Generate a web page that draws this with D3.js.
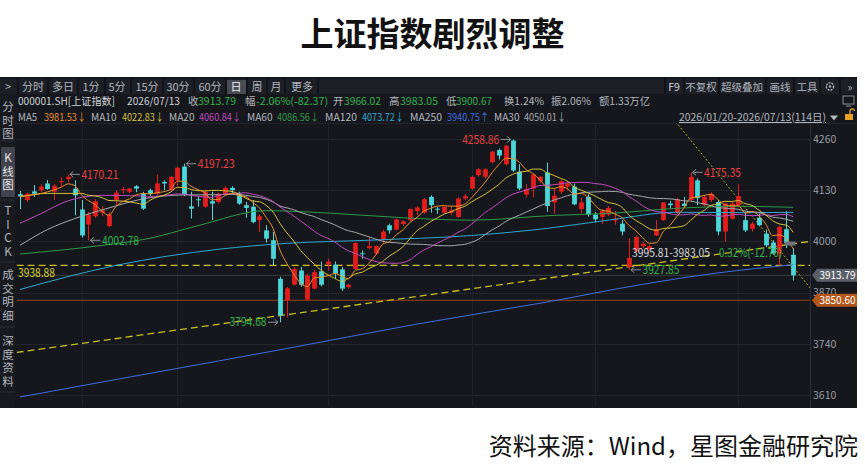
<!DOCTYPE html>
<html>
<head>
<meta charset="utf-8">
<script src="https://cdn.jsdelivr.net/npm/d3@7"></script>
<style>
  body { margin: 0; background: #fff; }
  svg { display: block; }
  text { font-family: "Noto Sans CJK SC", "Noto Sans", sans-serif; }
</style>
</head>
<body>
<div class="chart"></div>
<script>
// 上证指数 daily candles, 2026/01/20 - 2026/07/13 (114 sessions)
const opens = [4120,4105,4127,4130,4147,4126,4150,4158,4134,4081,
  4043,4064,4073,4039,4105,4130,4126,4140,4121,4130,
  4121,4151,4130,4155,4190,4089,4107,4088,4102,4100,
  4121,4136,4121,4092,4088,4054,4028,4003,3905,3850,
  3890,3926,3852,3880,3924,3941,3941,3929,3884,3930,
  3970,3983,3969,4005,4041,4030,4044,4054,4077,4073,
  4113,4083,4073,4073,4062,4109,4134,4168,4164,4201,
  4232,4196,4256,4177,4119,4134,4153,4175,4099,4126,
  4139,4139,4082,4113,4068,4062,4068,4053,4045,3935,
  3975,3988,3980,4015,4054,4096,4073,4096,4105,4155,
  4092,4105,4100,4025,4058,4092,4054,4032,4060,4020,
  3997,3969,4031,3966.02];
const highs = [4128,4124,4143,4145,4156,4146,4163,4170.21,4155,4105,
  4075,4107,4090,4075,4130,4139,4136,4143,4126,4134,
  4170,4155,4166,4190,4197.23,4126,4115,4130,4126,4124,
  4140,4140,4126,4100,4105,4068,4041,4024,3910,3884,
  3935,3935,3918,3928,3949,3956,3949,3935,3893,3998,
  3977,4011,3990,4030,4045,4058,4054,4084,4090,4110,
  4117,4087,4090,4088,4112,4120,4167,4186,4186,4230,
  4236,4245,4258.86,4196,4145,4172,4166,4200,4134,4156,
  4152,4147,4111,4120,4075,4082,4090,4077,4054,4008,
  4015,3999,3992,4054,4100,4103,4110,4113,4175.35,4160,
  4118,4125,4105,4098,4100,4145,4075,4050,4070,4030,
  4003,4040,4077,3983.05];
const lows = [4082,4100,4113,4125,4131,4105,4140,4150,4066,4010,
  4002.78,4060,4064,4036,4092,4122,4122,4125,4080,4115,
  4118,4130,4127,4140,4115,4058,4088,4085,4054,4096,
  4118,4121,4093,4060,4046,4024,3997,3940,3794.68,3807,
  3888,3885,3850,3878,3886,3926,3905,3874,3880,3928,
  3956,3980,3966,3995,4020,4028,4040,4050,4066,4070,
  4073,4070,4070,4066,4060,4105,4132,4165,4160,4198,
  4208,4193,4176,4130,4112,4112,4148,4075,4071,4120,
  4130,4092,4071,4063,4048,4044,4064,4043,4015,3927.85,
  3972,3983,3975,4013,4052,4083,4070,4085,4100,4092,
  4088,4100,4015,4000,4055,4088,4024,4025,4038,3985,
  3966,3939,3983,3900.67];
const closes = [4114,4121,4121,4139,4133,4141,4153,4164,4117,4015,
  4068,4102,4079,4068,4124,4133,4134,4134,4083,4120,
  4147,4147,4164,4187,4119,4083,4105,4126,4096,4121,
  4136,4130,4096,4085,4049,4064,4007,3956,3812,3881,
  3930,3890,3913,3922,3890,3949,3918,3880,3890,3996,
  3968,3988,3988,4025,4028,4056,4051,4082,4086,4107,
  4092,4081,4088,4079,4109,4115,4164,4183,4183,4228,
  4218,4243,4180,4134,4133,4170,4164,4090,4116,4153,
  4147,4094,4099,4068,4056,4077,4085,4058,4025,3958,
  4011,3994,3988,4031,4099,4092,4107,4090,4164,4110,
  4113,4121,4025,4096,4096,4115,4028,4045,4041,3990,
  3969,4037,3996.16,3913.79];

// first session of each month (Feb..Jul)
const monthStarts = [9, 23, 45, 66, 84, 105];
const yTicks = [3610, 3740, 3870, 4000, 4130, 4260];

const ma5Lead = [[0, 4115], [2, 4118]];
const ma10Lead = [[0, 4113], [4, 4122]];
const ma20Lead = [[0, 4046], [3, 4070], [7, 4103], [12, 4117], [18, 4115]];
const ma30Lead = [[0, 3990], [4, 4030], [8, 4058], [13, 4085], [18, 4108], [24, 4118]];
// long averages, read at sample points
const ma60 = [[0, 3968], [12, 3990], [19, 4008], [26, 4040], [36, 4078], [46, 4071], [56, 4060], [66, 4054], [78, 4066], [86, 4071], [96, 4084], [105, 4089], [113, 4086.56]];
const ma120 = [[0, 3878], [14, 3939], [29, 3980], [39, 3995], [51, 4003], [66, 4015], [77, 4033], [86, 4054], [96, 4074], [105, 4073], [113, 4073.72]];
const ma250 = [[0, 3605], [19, 3665], [39, 3728], [58, 3790], [77, 3846], [91, 3891], [102, 3920], [113, 3940.75]];

// drawn lines (index, value)
const trendUp = [[-0.5, 3718], [115.5, 4000]];
const trendDown = [[96.2, 4296], [115.8, 3875]];
const levelYellow = 3938.88;
const levelOrange = 3850.60;
const ruler = [3995.81, 3983.05];

const maNames = ['MA5', 'MA10', 'MA20', 'MA60', 'MA120', 'MA250', 'MA30'];
const maLast = ['3981.53↓', '4022.83↓', '4060.84↓', '4086.56↓', '4073.72↓', '3940.75↑', '4050.01↓'];
const maColors = ['#e8902a', '#d6c23a', '#c04cc0', '#2e9a48', '#2fa8d0', '#3f6ee0', '#a6a8ae'];

const peaks = [
  {i: 7, v: 4170.21, side: 1, color: '#e8403f'},
  {i: 24, v: 4197.23, side: 1, color: '#e8403f'},
  {i: 10, v: 4002.78, side: 1, color: '#2fb44c'},
  {i: 72, v: 4258.86, side: -1, color: '#e8403f'},
  {i: 38, v: 3794.68, side: -1, color: '#2fb44c'},
  {i: 98, v: 4175.35, side: 1, color: '#e8403f'},
  {i: 89, v: 3927.85, side: 1, color: '#2fb44c'}
];

const W = 865, H = 471;
const PANEL = {left: 0, right: 857, top: 77, bottom: 408};
const PLOT = {left: 16.6, right: 810, top: 124, bottom: 406};
const UP = '#e31c1c', DOWN = '#4cd6d8', GRAY = '#b2b6be', GREEN = '#2fb44c';

const svg = d3.select('.chart').append('svg')
  .attr('width', W).attr('height', H);

// title + source
svg.append('text').text('上证指数剧烈调整')
  .attr('x', W / 2).attr('y', 46).attr('text-anchor', 'middle')
  .attr('font-size', 33).attr('font-weight', 700).attr('fill', '#111');
svg.append('text').text('资料来源：Wind，星图金融研究院')
  .attr('x', 858).attr('y', 455).attr('text-anchor', 'end')
  .attr('font-size', 24).attr('fill', '#111');

// dark panel
svg.append('rect')
  .attr('x', PANEL.left).attr('y', PANEL.top)
  .attr('width', PANEL.right - PANEL.left).attr('height', PANEL.bottom - PANEL.top)
  .attr('fill', '#15171c');

// text helper; len squeezes the string to the width seen in the screenshot
function txt(x, yy, s, fill, size, anchor, len) {
  const t = svg.append('text').text(s).attr('x', x).attr('y', yy)
    .attr('fill', fill).attr('font-size', size || 11)
    .attr('text-anchor', anchor || 'start');
  if (len) t.attr('textLength', len).attr('lengthAdjust', 'spacingAndGlyphs');
  return t;
}

// toolbar
svg.append('rect').attr('x', 0).attr('y', 79).attr('width', PANEL.right).attr('height', 15).attr('fill', '#1c1f25');
const periods = [['>', 8], ['分时', 33], ['多日', 63], ['1分', 91], ['5分', 117], ['15分', 147], ['30分', 178], ['60分', 210], ['日', 236], ['周', 257], ['月', 276], ['更多', 302]];
const toolSeps = [18, 48, 78, 105, 131, 163, 194, 226, 247, 267, 285, 318, 665, 684, 719, 766, 794, 820, 840];
toolSeps.forEach(sx => svg.append('line').attr('x1', sx).attr('x2', sx).attr('y1', 79).attr('y2', 94).attr('stroke', '#0f1115').attr('stroke-width', 1.5));
svg.append('rect').attr('x', 227).attr('y', 80).attr('width', 19).attr('height', 14).attr('fill', '#474b54');
periods.forEach(([s, px]) => txt(px, 90.5, s, s === '日' ? '#f0f0f0' : GRAY, 11, 'middle'));
const tools = [['F9', 674], ['不复权', 701], ['超级叠加', 742], ['画线', 780], ['工具', 807], ['»', 850]];
tools.forEach(([s, px]) => txt(px, 90.5, s, s === 'F9' ? '#d8dadf' : GRAY, 10.5, 'middle'));
svg.append('circle').attr('cx', 830).attr('cy', 86.5).attr('r', 3.6).attr('fill', 'none').attr('stroke', GRAY).attr('stroke-width', 1.3).attr('stroke-dasharray', '2,1');
svg.append('circle').attr('cx', 830).attr('cy', 86.5).attr('r', 1.2).attr('fill', GRAY);

// quote row
const qy = 105;
txt(18, qy, '000001.SH[上证指数]', '#cfd2d8', 10.5, 'start', 97);
txt(127, qy, '2026/07/13', '#cfd2d8', 10.5, 'start', 53);
txt(188, qy, '收', GRAY, 10.5); txt(198, qy, '3913.79', GREEN, 10.5, 'start', 38);
txt(245, qy, '幅', GRAY, 10.5); txt(256, qy, '-2.06%(-82.37)', GREEN, 10.5, 'start', 72);
txt(333, qy, '开', GRAY, 10.5); txt(344, qy, '3966.02', GREEN, 10.5, 'start', 37);
txt(389, qy, '高', GRAY, 10.5); txt(400, qy, '3983.05', GREEN, 10.5, 'start', 38);
txt(446, qy, '低', GRAY, 10.5); txt(456, qy, '3900.67', GREEN, 10.5, 'start', 36);
txt(504, qy, '换1.24%', GRAY, 10.5, 'start', 40);
txt(551, qy, '振2.06%', GRAY, 10.5, 'start', 40);
txt(599, qy, '额1.33万亿', GRAY, 10.5, 'start', 51);
svg.append('rect').attr('x', 843).attr('y', 96).attr('width', 11).attr('height', 8).attr('fill', 'none').attr('stroke', '#8a8e96');
svg.append('line').attr('x1', 846).attr('x2', 851).attr('y1', 106).attr('y2', 106).attr('stroke', '#8a8e96');

// MA legend row
const my = 121;
const maPos = [[18, 44], [91, 122], [169, 199], [247, 277], [325, 362], [410, 447], [494, 524]];
maNames.forEach((n, k) => {
  txt(maPos[k][0], my, n, GRAY, 10.5, 'start', n.length * 6.4);
  txt(maPos[k][1], my, maLast[k], maColors[k], 10.5, 'start', 42);
});
txt(679, my, '2026/01/20-2026/07/13(114日)', GRAY, 10.5, 'start', 147)
  .attr('text-decoration', 'underline');
svg.append('path').attr('d', 'M830,115.5H838L834,120.5Z').attr('fill', GRAY);
svg.append('rect').attr('x', 845).attr('y', 114).attr('width', 8).attr('height', 6).attr('fill', '#e8a020');
svg.append('path').attr('d', 'M850,114 v-3 a2.2,2.2 0 0 1 4.4,0').attr('fill', 'none').attr('stroke', '#e8a020').attr('stroke-width', 1.2);

// left tab column, each tab is one vertical text
svg.append('rect').attr('x', 0).attr('y', 94).attr('width', 15).attr('height', PANEL.bottom - 94).attr('fill', '#181a20');
svg.append('rect').attr('x', 1).attr('y', 147).attr('width', 14).attr('height', 50).attr('fill', '#40434c');
const tabs = [['分时图', 101], ['K线图', 152], ['TICK', 205], ['成交明细', 269], ['深度资料', 335]];
tabs.forEach(([s, y0]) => {
  svg.append('text').text(s)
    .attr('x', 8).attr('y', y0)
    .attr('fill', s === 'K线图' ? '#e8e8e8' : GRAY)
    .attr('font-size', 11.5)
    .style('writing-mode', 'vertical-rl')
    .style('text-orientation', 'upright')
    .style('letter-spacing', '2px');
});
[141, 200, 262, 327, 392].forEach(sy => svg.append('line').attr('x1', 0).attr('x2', 15).attr('y1', sy).attr('y2', sy).attr('stroke', '#2a2d34'));

// scales
const xPos = d3.scaleLinear().domain([-0.5, closes.length - 0.5]).range([16.6, 796.6]);
const y = d3.scaleLinear().domain([3610, 4260]).range([395, 139]);
const candleW = 4.8;

// grid
svg.append('g').selectAll('line').data(yTicks).join('line')
  .attr('x1', PLOT.left).attr('x2', PLOT.right)
  .attr('y1', d => Math.round(y(d)) + 0.5).attr('y2', d => Math.round(y(d)) + 0.5)
  .attr('stroke', '#22252c');
svg.append('g').selectAll('line').data(monthStarts).join('line')
  .attr('x1', d => Math.round(xPos(d)) + 0.5).attr('x2', d => Math.round(xPos(d)) + 0.5)
  .attr('y1', PLOT.top).attr('y2', PLOT.bottom)
  .attr('stroke', '#1e2127');

// right axis
svg.append('line').attr('x1', PLOT.right + 0.5).attr('x2', PLOT.right + 0.5)
  .attr('y1', PLOT.top).attr('y2', PANEL.bottom).attr('stroke', '#2c2f37');
svg.append('line').attr('x1', 15).attr('x2', PANEL.right)
  .attr('y1', PLOT.top - 0.5).attr('y2', PLOT.top - 0.5).attr('stroke', '#22252c');
const yAxis = svg.append('g')
  .attr('transform', `translate(${PLOT.right + 1},0)`)
  .call(d3.axisRight(y).tickValues(yTicks).tickSize(0).tickPadding(2).tickFormat(d3.format('d')));
yAxis.select('.domain').remove();
yAxis.selectAll('text').attr('fill', '#9a9ea6').attr('font-size', 10.5)
  .attr('font-family', '"Noto Sans", sans-serif');

// plot area
svg.append('clipPath').attr('id', 'plotClip').append('rect')
  .attr('x', PLOT.left).attr('y', PLOT.top)
  .attr('width', PLOT.right - PLOT.left).attr('height', PLOT.bottom - PLOT.top);
const plot = svg.append('g').attr('clip-path', 'url(#plotClip)');

// reference levels
const last = closes.length - 1;
plot.append('line').attr('x1', PLOT.left).attr('x2', PLOT.right)
  .attr('y1', y(closes[last])).attr('y2', y(closes[last]))
  .attr('stroke', '#3a3d45');
plot.append('line').attr('x1', PLOT.left).attr('x2', PLOT.right)
  .attr('y1', y(levelOrange)).attr('y2', y(levelOrange))
  .attr('stroke', '#8e4718').attr('stroke-width', 1.2);
plot.append('line').attr('x1', PLOT.left).attr('x2', PLOT.right)
  .attr('y1', y(levelYellow)).attr('y2', y(levelYellow))
  .attr('stroke', '#c9bf1e').attr('stroke-width', 1.3).attr('stroke-dasharray', '7,4');

const seg = d3.line().x(d => xPos(d[0])).y(d => y(d[1]));
plot.append('path').datum(trendUp).attr('d', seg)
  .attr('fill', 'none').attr('stroke', '#c9bf1e').attr('stroke-width', 1.3).attr('stroke-dasharray', '7,4');
plot.append('path').datum(trendDown).attr('d', seg)
  .attr('fill', 'none').attr('stroke', '#b9b020').attr('stroke-width', 1).attr('stroke-dasharray', '2,2');

// candles
const candles = plot.append('g').selectAll('g').data(d3.range(closes.length)).join('g')
  .attr('fill', i => closes[i] >= opens[i] ? UP : DOWN)
  .attr('stroke', i => closes[i] >= opens[i] ? UP : DOWN);
candles.append('line')
  .attr('x1', i => Math.round(xPos(i)) + 0.5).attr('x2', i => Math.round(xPos(i)) + 0.5)
  .attr('y1', i => y(highs[i])).attr('y2', i => y(lows[i]))
  .attr('stroke-width', 1);
candles.append('rect')
  .attr('x', i => Math.round(xPos(i)) + 0.5 - candleW / 2)
  .attr('y', i => y(Math.max(opens[i], closes[i])))
  .attr('width', candleW)
  .attr('height', i => Math.max(1, Math.abs(y(opens[i]) - y(closes[i]))))
  .attr('stroke', 'none');

// moving averages
function movingAvg(n) {
  return d3.range(n - 1, closes.length)
    .map(i => [i, d3.mean(closes.slice(i - n + 1, i + 1))]);
}
const maSeries = [
  {pts: ma250, color: maColors[5]},
  {pts: ma120, color: maColors[4]},
  {pts: ma60, color: maColors[3]},
  {pts: ma30Lead.concat(movingAvg(30)), color: maColors[6]},
  {pts: ma20Lead.concat(movingAvg(20)), color: maColors[2]},
  {pts: ma10Lead.concat(movingAvg(10)), color: maColors[1]},
  {pts: ma5Lead.concat(movingAvg(5)), color: maColors[0]}
];
const maLine = d3.line().x(d => xPos(d[0])).y(d => y(d[1])).curve(d3.curveMonotoneX);
maSeries.forEach(s => {
  plot.append('path').datum(s.pts).attr('d', maLine)
    .attr('fill', 'none').attr('stroke', s.color).attr('stroke-width', 1);
});

// high / low labels
peaks.forEach(p => {
  const cx = xPos(p.i), cy = y(p.v);
  const x0 = cx + p.side * 2, x1 = cx + p.side * 12;
  svg.append('path')
    .attr('d', `M${x1},${cy}H${x0}M${x0 + p.side * 3.5},${cy - 3}L${x0},${cy}L${x0 + p.side * 3.5},${cy + 3}`)
    .attr('fill', 'none').attr('stroke', '#8c9098').attr('stroke-width', 1);
  txt(x1 + p.side * 1.5, cy + 4.2, p.v.toFixed(2), p.color, 12, p.side > 0 ? 'start' : 'end', 37);
});

// level label
txt(18, 277, levelYellow.toFixed(2), '#d8d020', 12, 'start', 37);

// ruler readout near the last sessions
svg.append('rect').attr('x', xPos(112) - 2).attr('y', y(ruler[0]) - 1.5)
  .attr('width', 11).attr('height', 4).attr('fill', '#70737b');
const rulerPct = (ruler[1] - ruler[0]) / ruler[0] * 100;
txt(632, 257, `${ruler[0].toFixed(2)}-${ruler[1].toFixed(2)}`, '#d8dadf', 11.5, 'start', 78);
txt(719, 257, `${Math.abs(rulerPct).toFixed(2)}%(${(ruler[1] - ruler[0]).toFixed(2)})`, GREEN, 11.5, 'start', 63);

// price tags on the axis
function tag(v, fill) {
  const ty = y(v);
  svg.append('path')
    .attr('d', `M812,${ty}L817,${ty - 6.5}H857V${ty + 6.5}H817Z`)
    .attr('fill', fill);
  txt(837.5, ty + 4, v.toFixed(2), '#ffffff', 11, 'middle', 36);
}
tag(closes[last], '#5c5f68');
tag(levelOrange, '#b3561b');
</script>
</body>
</html>
